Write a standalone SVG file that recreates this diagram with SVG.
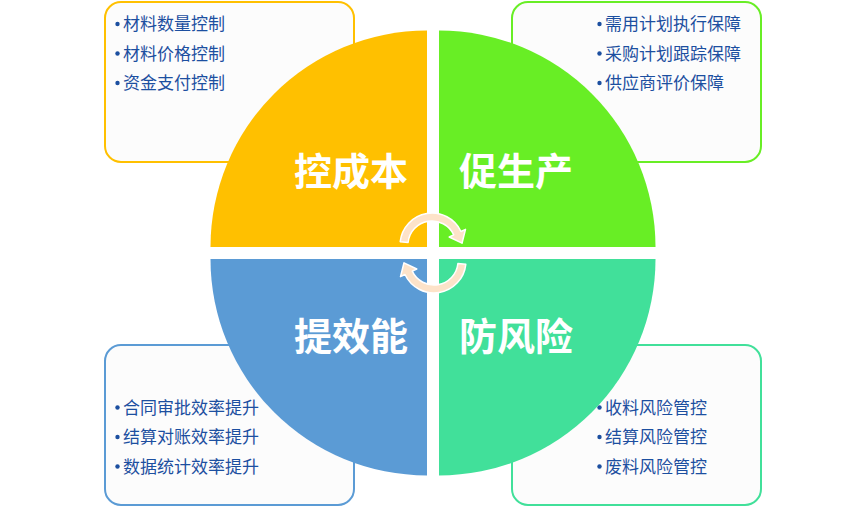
<svg xmlns="http://www.w3.org/2000/svg" width="865" height="507" viewBox="0 0 865 507">
<style>
.box{fill:#fcfcfc;stroke-width:2}
.item{font-family:"Noto Sans CJK SC","Liberation Sans",sans-serif;font-size:17px;fill:#1c4fa0}
.dot{fill:#1c4fa0}
.big{font-family:"Noto Sans CJK SC","Liberation Sans",sans-serif;font-size:38px;font-weight:bold;fill:#ffffff;text-anchor:middle}
.arrow{fill:#fde3c9;stroke:#ffffff;stroke-width:1.5;stroke-linejoin:round}
</style>
<rect width="865" height="507" fill="#ffffff"/>
<g id="box-cost">
<rect class="box" x="105" y="2" width="249" height="160" rx="16" stroke="#ffc000"/>
<circle class="dot" cx="117.5" cy="24" r="2.2"/><text class="item" x="123" y="30">材料数量控制</text>
<circle class="dot" cx="117.5" cy="53.5" r="2.2"/><text class="item" x="123" y="59.5">材料价格控制</text>
<circle class="dot" cx="117.5" cy="83" r="2.2"/><text class="item" x="123" y="89">资金支付控制</text>
</g>
<g id="box-production">
<rect class="box" x="512" y="2" width="249" height="160" rx="16" stroke="#68ee25"/>
<circle class="dot" cx="599.5" cy="24" r="2.2"/><text class="item" x="605" y="30">需用计划执行保障</text>
<circle class="dot" cx="599.5" cy="53.5" r="2.2"/><text class="item" x="605" y="59.5">采购计划跟踪保障</text>
<circle class="dot" cx="599.5" cy="83" r="2.2"/><text class="item" x="605" y="89">供应商评价保障</text>
</g>
<g id="box-efficiency">
<rect class="box" x="105" y="345" width="249" height="160" rx="16" stroke="#5b9bd5"/>
<circle class="dot" cx="117.5" cy="407.5" r="2.2"/><text class="item" x="123" y="413.5">合同审批效率提升</text>
<circle class="dot" cx="117.5" cy="437" r="2.2"/><text class="item" x="123" y="443">结算对账效率提升</text>
<circle class="dot" cx="117.5" cy="466.5" r="2.2"/><text class="item" x="123" y="472.5">数据统计效率提升</text>
</g>
<g id="box-risk">
<rect class="box" x="512" y="345" width="249" height="160" rx="16" stroke="#41e09a"/>
<circle class="dot" cx="599.5" cy="407.5" r="2.2"/><text class="item" x="605" y="413.5">收料风险管控</text>
<circle class="dot" cx="599.5" cy="437" r="2.2"/><text class="item" x="605" y="443">结算风险管控</text>
<circle class="dot" cx="599.5" cy="466.5" r="2.2"/><text class="item" x="605" y="472.5">废料风险管控</text>
</g>
<g id="q-cost">
<path d="M427,247 H210.5 A216.5,216.5 0 0 1 427,30.5 Z" fill="#ffc000"/>
<text class="big" x="351" y="184.5">控成本</text>
</g>
<g id="q-production">
<path d="M439,247 V30.5 A216.5,216.5 0 0 1 655.5,247 Z" fill="#68ee25"/>
<text class="big" x="516" y="184.5">促生产</text>
</g>
<g id="q-efficiency">
<path d="M427,259 H210.5 A216.5,216.5 0 0 0 427,475.5 Z" fill="#5b9bd5"/>
<text class="big" x="351" y="349.5">提效能</text>
</g>
<g id="q-risk">
<path d="M439,259 H655.5 A216.5,216.5 0 0 1 439,475.5 Z" fill="#41e09a"/>
<text class="big" x="516" y="349.5">防风险</text>
</g>
<g id="connectors">
<path class="arrow" d="M400.2,241.7 A32,32 0 0 1 461.0,231.5 L465.5,229.4 L462.0,243.2 L449.2,237.0 L453.75,234.86 A24,24 0 0 0 408.1,242.5 Z"/>
<path class="arrow" d="M465.8,264.3 A32,32 0 0 1 405.0,274.5 L400.5,276.6 L404.0,262.8 L416.8,269.0 L412.25,271.14 A24,24 0 0 0 457.9,263.5 Z"/>
</g>
</svg>
